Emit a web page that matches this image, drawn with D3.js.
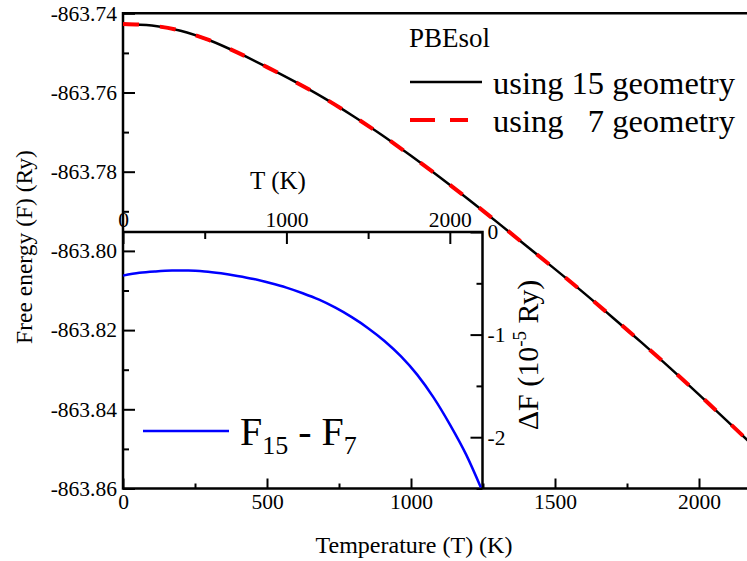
<!DOCTYPE html>
<html>
<head>
<meta charset="utf-8">
<script src="https://cdn.jsdelivr.net/npm/d3@7"></script>
<style>
  html, body { margin: 0; padding: 0; background: #fff; }
  svg { display: block; }
</style>
</head>
<body>
<div id="chart"></div>
<script>
// ── Data ──────────────────────────────────────────────────────────────────────
const temps = [0, 100, 200, 300, 400, 500, 600, 700, 800, 900, 1000, 1100,
  1200, 1300, 1400, 1500, 1600, 1700, 1800, 1900, 2000, 2100, 2200];
const f15 = [-863.74270, -863.74310, -863.74440, -863.74680, -863.75000, -863.75360,
  -863.75740, -863.76150, -863.76600, -863.77080, -863.77600, -863.78140,
  -863.78700, -863.79280, -863.79870, -863.80460, -863.81060, -863.81680,
  -863.82310, -863.82960, -863.83630, -863.84310, -863.85000];
const f7 = [-863.74270, -863.74310, -863.74440, -863.74680, -863.75000, -863.75360,
  -863.75740, -863.76150, -863.76600, -863.77080, -863.77599, -863.78139,
  -863.78699, -863.79279, -863.79869, -863.80459, -863.81059, -863.81679,
  -863.82309, -863.82958, -863.83628, -863.84308, -863.84998];

const insetTemps = [0, 100, 200, 300, 400, 500, 600, 700, 800, 900, 1000, 1100,
  1200, 1300, 1400, 1500, 1600, 1700, 1800, 1900, 2000, 2100, 2190];
const deltaF = [-0.425, -0.398, -0.384, -0.376, -0.375, -0.384, -0.403, -0.428, -0.458,
  -0.497, -0.542, -0.597, -0.660, -0.738, -0.830, -0.937, -1.062, -1.210, -1.390,
  -1.612, -1.875, -2.170, -2.49];

const mainXTicks = [0, 500, 1000, 1500, 2000];
const mainXMinor = [250, 750, 1250, 1750, 2250];
const mainYTicks = [-863.86, -863.84, -863.82, -863.80, -863.78, -863.76, -863.74];
const mainYMinor = [-863.85, -863.83, -863.81, -863.79, -863.77, -863.75];
const insetXTicks = [0, 1000, 2000];
const insetXMinor = [500, 1500];
const insetYTicks = [-2, -1, 0];
const insetYMinor = [-2.5, -1.5, -0.5];

const FONT = '"Liberation Serif", "Times New Roman", Times, serif';

// ── SVG setup ─────────────────────────────────────────────────────────────────
const W = 747, H = 561;
const svg = d3.select('#chart').append('svg')
  .attr('width', W).attr('height', H)
  .attr('font-family', FONT);

const x = d3.scaleLinear().domain([0, 2200]).range([123, 756.6]);
const y = d3.scaleLinear().domain([-863.86, -863.74]).range([488.5, 13.3]);
const xi = d3.scaleLinear().domain([0, 2200]).range([123, 482.5]);
const yi = d3.scaleLinear().domain([-2.5, 0]).range([488.5, 232]);

// draw an axis, strip the domain line, restyle ticks and labels
function drawAxis(axis, transform) {
  const g = svg.append('g').attr('transform', transform).call(axis);
  g.attr('font-family', FONT).attr('font-size', 21.5);
  g.select('.domain').remove();
  g.selectAll('line').attr('stroke', '#000').attr('stroke-width', 2);
  g.selectAll('text').attr('fill', '#000').attr('font-family', FONT);
  return g;
}

// ── Main axes ─────────────────────────────────────────────────────────────────
drawAxis(d3.axisLeft(y).tickValues(mainYTicks).tickSize(-12).tickPadding(6)
  .tickFormat(d => d.toFixed(2)), `translate(${x(0)},0)`);
drawAxis(d3.axisLeft(y).tickValues(mainYMinor).tickSize(-6).tickFormat(''),
  `translate(${x(0)},0)`);

drawAxis(d3.axisBottom(x).tickValues(mainXTicks).tickSize(-10).tickPadding(5)
  .tickFormat(d => String(d)), `translate(0,${y(-863.86)})`);
drawAxis(d3.axisBottom(x).tickValues(mainXMinor).tickSize(-5).tickFormat(''),
  `translate(0,${y(-863.86)})`);

// ── Inset axes ────────────────────────────────────────────────────────────────
drawAxis(d3.axisTop(xi).tickValues(insetXTicks).tickSize(-12).tickPadding(5)
  .tickFormat(d => String(d)), `translate(0,${yi(0)})`);
drawAxis(d3.axisTop(xi).tickValues(insetXMinor).tickSize(-7).tickFormat(''),
  `translate(0,${yi(0)})`);

drawAxis(d3.axisRight(yi).tickValues(insetYTicks).tickSize(-12).tickPadding(5)
  .tickFormat(d => String(d)), `translate(${xi(2200)},0)`);
drawAxis(d3.axisRight(yi).tickValues(insetYMinor).tickSize(-6).tickFormat(''),
  `translate(${xi(2200)},0)`);

// ── Frames ────────────────────────────────────────────────────────────────────
const frame = svg.append('g').attr('stroke', '#000').attr('stroke-width', 2.5)
  .attr('fill', 'none');
frame.append('path')
  .attr('d', `M${x(2200)},${y(-863.74)}H${x(0)}V${y(-863.86)}H${x(2200)}`);
frame.append('path')
  .attr('d', `M${xi(0)},${yi(0)}H${xi(2200)}V${yi(-2.5)}`);

// ── Curves ────────────────────────────────────────────────────────────────────
const mainLine = d3.line()
  .x((d, i) => x(temps[i]))
  .y(d => y(d))
  .curve(d3.curveMonotoneX);

svg.append('path').datum(f15)
  .attr('d', mainLine)
  .attr('fill', 'none').attr('stroke', '#000').attr('stroke-width', 2.5);
svg.append('path').datum(f7)
  .attr('d', mainLine)
  .attr('fill', 'none').attr('stroke', '#ff0000').attr('stroke-width', 4)
  .attr('stroke-dasharray', '16,21');

const insetLine = d3.line()
  .x((d, i) => xi(insetTemps[i]))
  .y(d => yi(d))
  .curve(d3.curveMonotoneX);

svg.append('path').datum(deltaF)
  .attr('d', insetLine)
  .attr('fill', 'none').attr('stroke', '#0000ff').attr('stroke-width', 2.5);

// ── Labels ────────────────────────────────────────────────────────────────────
svg.append('text')
  .attr('transform', 'translate(32,247) rotate(-90)')
  .attr('text-anchor', 'middle')
  .attr('font-size', 23.5)
  .text('Free energy (F) (Ry)');

svg.append('text')
  .attr('x', 414).attr('y', 553)
  .attr('text-anchor', 'middle')
  .attr('font-size', 24)
  .text('Temperature (T) (K)');

svg.append('text')
  .attr('x', 278).attr('y', 189)
  .attr('text-anchor', 'middle')
  .attr('font-size', 25)
  .text('T (K)');

const dfTitle = svg.append('text')
  .attr('transform', 'translate(538,355) rotate(-90)')
  .attr('text-anchor', 'middle')
  .attr('font-size', 30);
dfTitle.append('tspan').text('\u0394F (10');
dfTitle.append('tspan').attr('font-size', 19).attr('dy', -12).text('-5');
dfTitle.append('tspan').attr('dy', 12).text(' Ry)');

// ── Legends ───────────────────────────────────────────────────────────────────
svg.append('text')
  .attr('x', 409).attr('y', 47)
  .attr('font-size', 27)
  .text('PBEsol');

svg.append('line')
  .attr('x1', 410).attr('x2', 482).attr('y1', 82).attr('y2', 82)
  .attr('stroke', '#000').attr('stroke-width', 2.5);
svg.append('text')
  .attr('x', 493).attr('y', 94)
  .attr('font-size', 32.5)
  .style('white-space', 'pre')
  .text('using 15 geometry');

svg.append('line')
  .attr('x1', 410).attr('x2', 468).attr('y1', 120).attr('y2', 120)
  .attr('stroke', '#ff0000').attr('stroke-width', 4)
  .attr('stroke-dasharray', '25,15');
svg.append('text')
  .attr('x', 493).attr('y', 132)
  .attr('font-size', 32.5)
  .style('white-space', 'pre')
  .text('using   7 geometry');

svg.append('line')
  .attr('x1', 143).attr('x2', 229).attr('y1', 431).attr('y2', 431)
  .attr('stroke', '#0000ff').attr('stroke-width', 2.5);
const fLabel = svg.append('text')
  .attr('x', 240).attr('y', 445)
  .attr('font-size', 40)
  .style('white-space', 'pre');
fLabel.append('tspan').text('F');
fLabel.append('tspan').attr('font-size', 26).attr('dy', 9).text('15');
fLabel.append('tspan').attr('dy', -9).text(' - F');
fLabel.append('tspan').attr('font-size', 26).attr('dy', 9).text('7');
</script>
</body>
</html>
